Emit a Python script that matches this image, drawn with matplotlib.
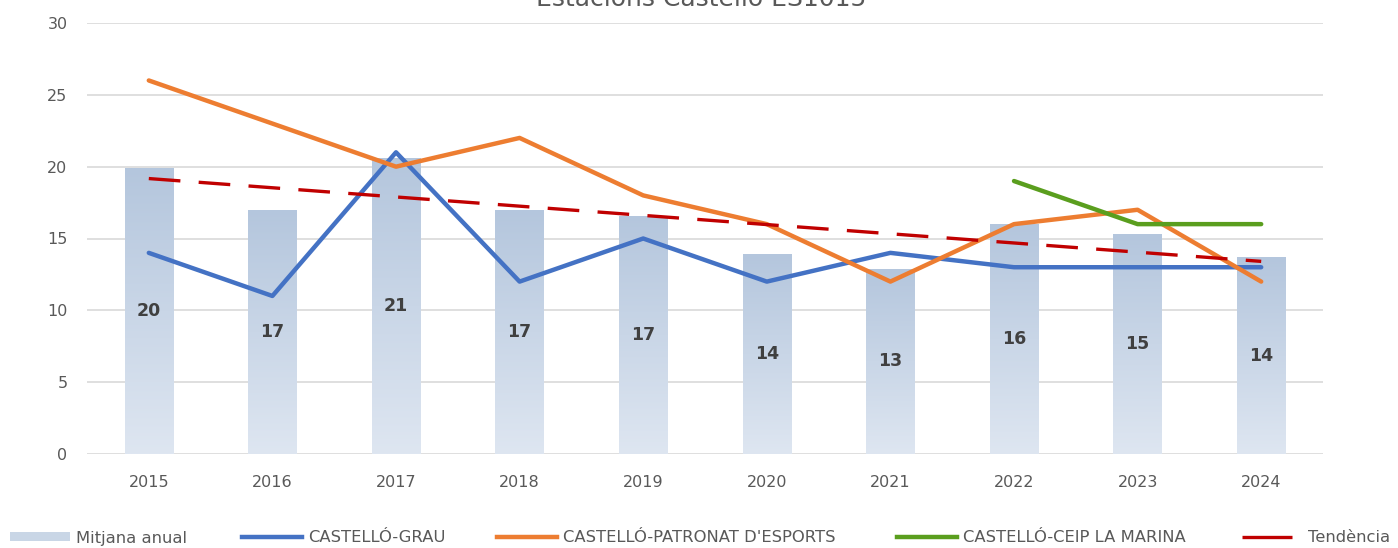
import numpy as np
import matplotlib
matplotlib.use("Agg")
import matplotlib.pyplot as plt
from matplotlib.colors import LinearSegmentedColormap
from matplotlib.lines import Line2D
from matplotlib.patches import Patch

years = ['2015', '2016', '2017', '2018', '2019', '2020', '2021', '2022', '2023', '2024']
mitjana = [19.9, 17.0, 20.6, 17.0, 16.6, 13.9, 12.9, 16.0, 15.3, 13.7]
grau = [14, 11, 21, 12, 15, 12, 14, 13, 13, 13]
patronat = [26, 23, 20, 22, 18, 16, 12, 16, 17, 12]
marina = [np.nan, np.nan, np.nan, np.nan, np.nan, np.nan, np.nan, 19, 16, 16]

plt.rcParams['font.family'] = ['DejaVu Sans']
txt = '#595959'

fig = plt.figure(figsize=(13.98, 5.48), dpi=100)
ax = fig.add_axes([87 / 1398, 1 - 454 / 548, (1323 - 87) / 1398, (454 - 23) / 548])

x = np.arange(len(years))
bars = ax.bar(x, mitjana, width=0.39, color='none', zorder=2)

# vertical gradient fill for every bar
cmap = LinearSegmentedColormap.from_list('barfill', ['#dee6f1', '#b4c6dd'])
grad = np.linspace(0, 1, 256).reshape(-1, 1)
for b in bars:
    x0, y0 = b.get_x(), b.get_y()
    w, h = b.get_width(), b.get_height()
    im = ax.imshow(grad, extent=[x0, x0 + w, y0, y0 + h], origin='lower',
                   cmap=cmap, aspect='auto', zorder=2)
    im.set_clip_path(b)
    ax.text(x0 + w / 2, h / 2, f'{round(h):d}', ha='center', va='center',
            fontsize=12.5, fontweight='bold', color='#404040', zorder=6)

lw = 3.2
ax.plot(x, grau, color='#4472c4', lw=lw, solid_capstyle='round', zorder=3)
ax.plot(x, patronat, color='#ed7d31', lw=lw, solid_capstyle='round', zorder=3)
ax.plot(x, marina, color='#5a9e1e', lw=lw, solid_capstyle='round', zorder=3)

# linear trend of the annual mean
coef = np.polyfit(x, mitjana, 1)
trend = np.polyval(coef, x)
ax.plot(x, trend, color='#c00000', lw=2.4, dashes=(9.5, 5.5), zorder=4)

ax.set_xlim(-0.5, len(years) - 0.5)
ax.set_ylim(0, 30)
ax.set_yticks(range(0, 31, 5))
ax.set_xticks(x)
ax.set_xticklabels(years)
ax.tick_params(axis='both', length=0, labelsize=11.5, colors=txt)
ax.tick_params(axis='x', pad=15)
ax.tick_params(axis='y', pad=14)
ax.grid(axis='y', color='#d9d9d9', lw=1.2)
ax.set_axisbelow(True)
for s in ax.spines.values():
    s.set_visible(False)

fig.text(701 / 1398, 1 - 6 / 548, 'Estacions Castelló ES1015', ha='center',
         va='baseline', fontsize=18, color=txt)

# legend entries placed one by one along the bottom
entries = [
    (10, Patch(facecolor='#c9d6e6', edgecolor='none'), 'Mitjana anual'),
    (242, Line2D([], [], color='#4472c4', lw=lw), 'CASTELLÓ-GRAU'),
    (497, Line2D([], [], color='#ed7d31', lw=lw), "CASTELLÓ-PATRONAT D'ESPORTS"),
    (897, Line2D([], [], color='#5a9e1e', lw=lw), 'CASTELLÓ-CEIP LA MARINA'),
    (1242, Line2D([], [], color='#c00000', lw=2.4, dashes=(15, 6)), 'Tendència'),
]
for px, h, lab in entries:
    fig.legend([h], [lab], loc='center left', bbox_to_anchor=(px / 1398, 1 - 538 / 548),
               frameon=False, fontsize=11.8, labelcolor=txt, handlelength=3.65,
               handleheight=0.5, handletextpad=0.36, borderpad=0, borderaxespad=0)

fig.savefig('out.png', dpi=100)
